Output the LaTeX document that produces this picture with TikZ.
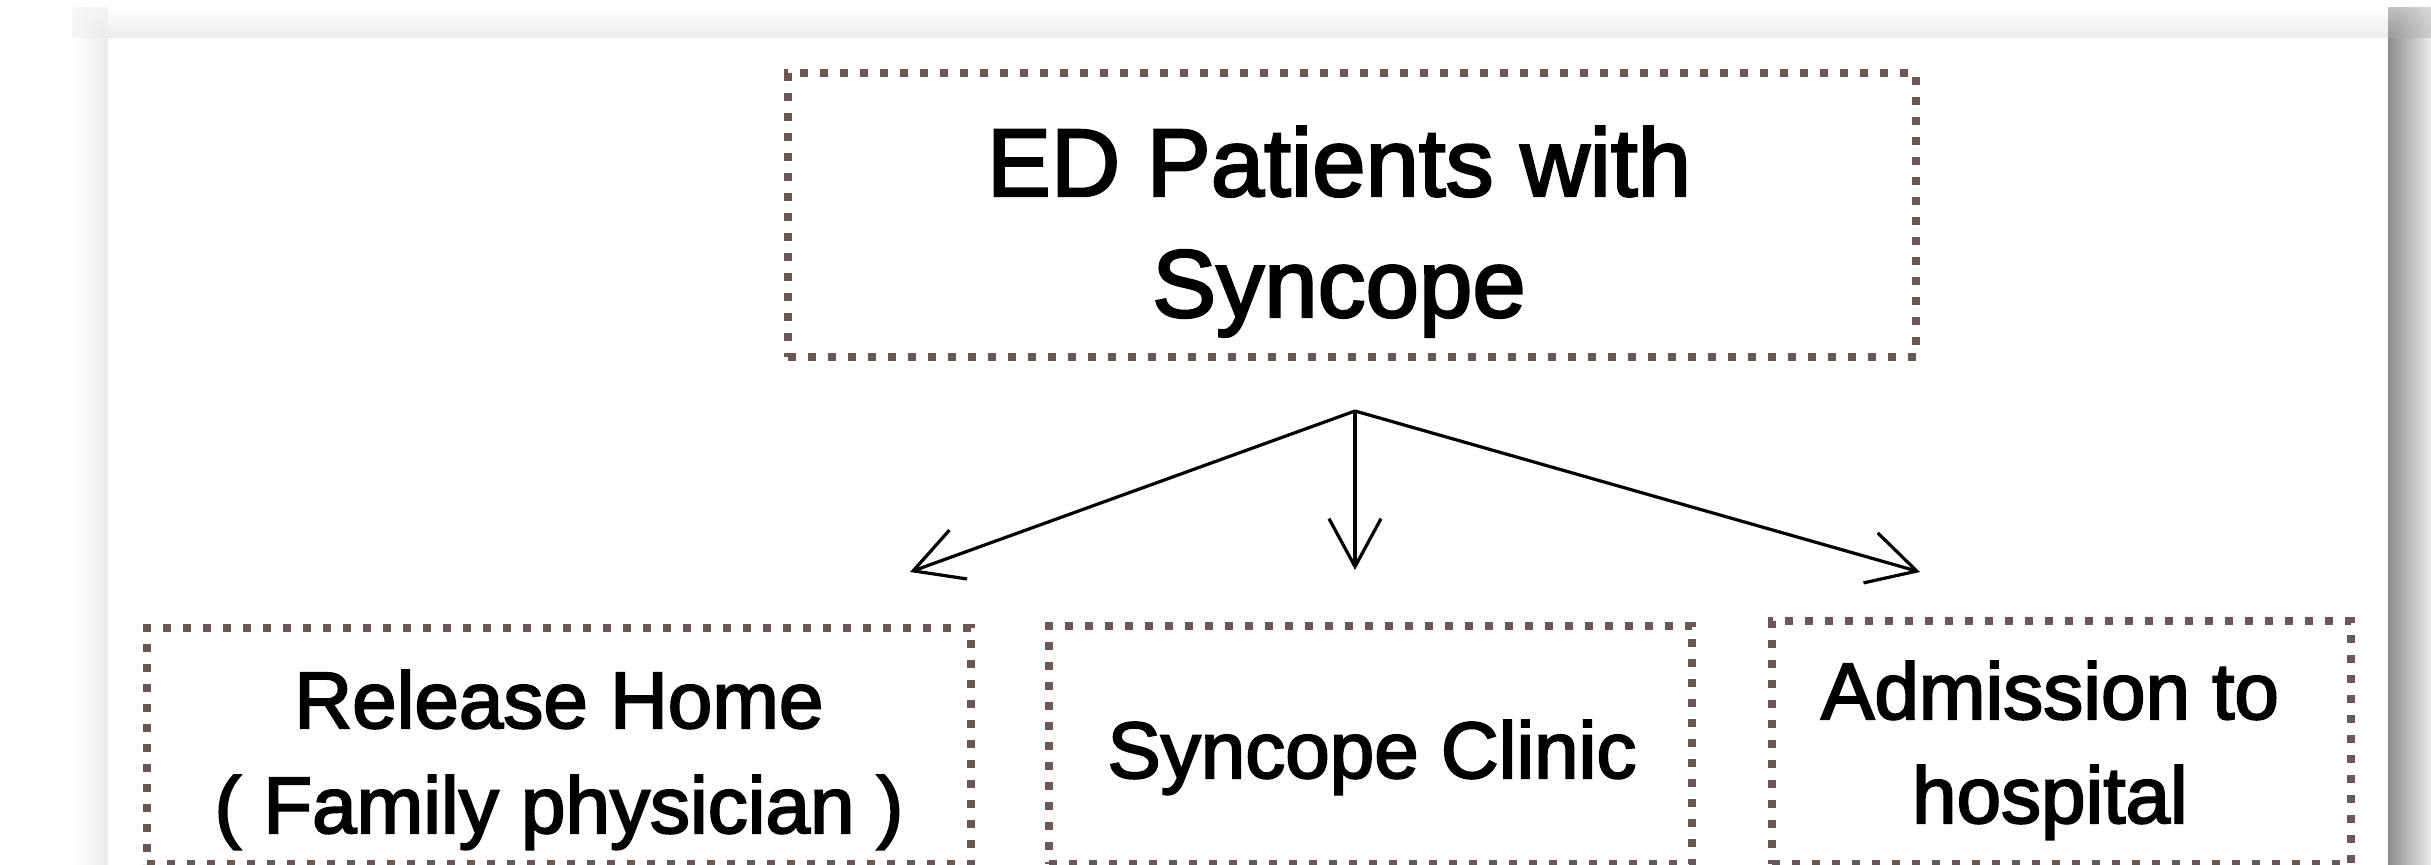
\documentclass[tikz,border=0pt]{standalone}
\usepackage{fontspec}
\setmainfont{Liberation Sans}[FakeBold=2.5]
\usetikzlibrary{arrows.meta}
\definecolor{dotc}{RGB}{107,88,84}
\begin{document}
\begin{tikzpicture}[x=0.5pt,y=-0.5pt,
  dotbox/.style={draw=dotc, line width=4pt, dash pattern=on 4pt off 6pt, inner sep=0pt},
  bigtxt/.style={anchor=base, inner sep=0pt, font=\fontsize{48}{60.5}\selectfont},
  smalltxt/.style={anchor=base, inner sep=0pt, font=\fontsize{40}{52.5}\selectfont},
  conn/.style={line width=1.6pt, -{Straight Barb[length=24pt,width=26pt]}}]
\useasboundingbox (0,0) rectangle (2431,865);
\fill[white] (0,0) rectangle (2431,865);
% panel shadow
\shade[top color=white, bottom color=black!8] (108,8) rectangle (2388,38);
\shade[left color=white, right color=black!8] (72,38) rectangle (108,865);
\begin{scope}
  \clip (72,8) rectangle (108,38);
  \shade[inner color=black!8, outer color=white] (108,38) circle[radius=36pt];
\end{scope}
\shade[left color=black!45, right color=black!8] (2388,38) rectangle (2431,865);
\begin{scope}
  \clip (2388,8) rectangle (2431,38);
  \shade[inner color=black!40, outer color=white] (2388,38) circle[radius=42pt];
\end{scope}
% panel
\fill[white] (108,38) rectangle (2388,865);
% boxes
\node[dotbox, minimum width=564pt, minimum height=142pt] (top) at (1352,215) {};
\node[bigtxt] (toptext) at (1339,196) {\begin{tabular}[t]{@{}c@{}}ED Patients with\\Syncope\end{tabular}};
\node[dotbox, minimum width=412pt, minimum height=118pt] (home) at (559,746) {};
\node[smalltxt] (hometext) at (559,728) {\begin{tabular}[t]{@{}c@{}}Release Home\\( Family physician )\end{tabular}};
\node[dotbox, minimum width=321.5pt, minimum height=119pt] (clinic) at (1370.5,745) {};
\node[smalltxt] (clinictext) at (1372,778) {Syncope Clinic};
\node[dotbox, minimum width=289.5pt, minimum height=121.5pt] (hosp) at (2061.5,742.5) {};
\node[smalltxt, font=\fontsize{40}{52}\selectfont] (hosptext) at (2050,719) {\begin{tabular}[t]{@{}c@{}}Admission to\\hospital\end{tabular}};
% connectors
\coordinate (split) at (1355,411);
\coordinate (tipL) at (910,572);
\coordinate (tipM) at (1355,570);
\coordinate (tipR) at (1920,572);
\draw[conn] (split) -- (tipL);
\draw[conn] (split) -- (tipM);
\draw[conn] (split) -- (tipR);
\end{tikzpicture}
\end{document}
